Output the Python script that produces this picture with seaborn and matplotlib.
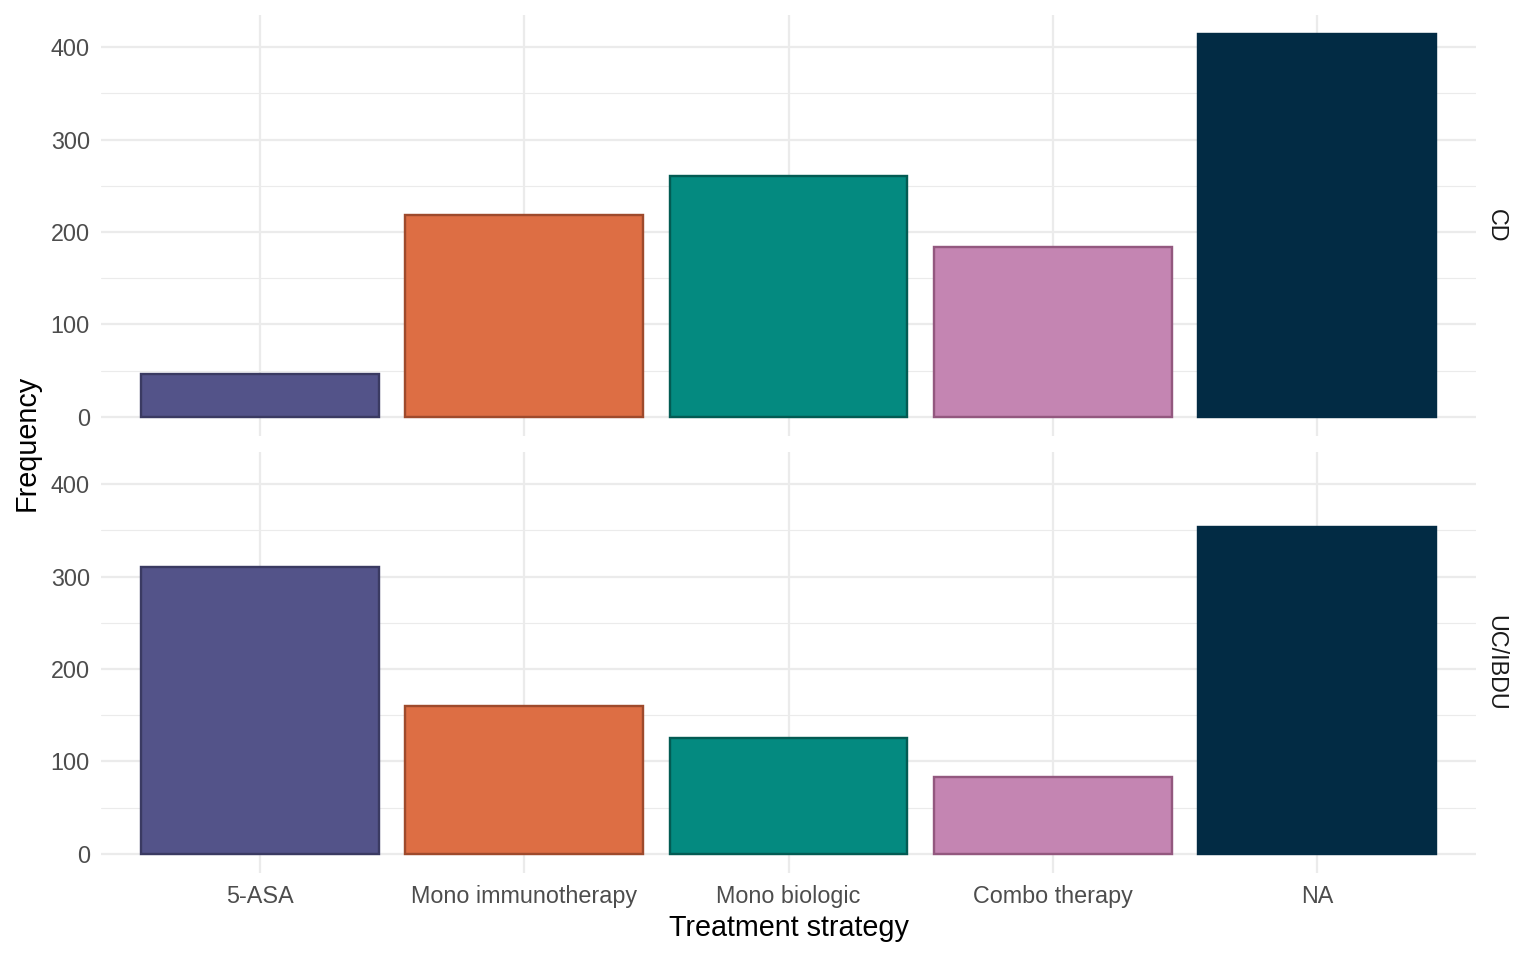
import matplotlib
matplotlib.use("Agg")
import matplotlib.pyplot as plt
import seaborn as sns
import pandas as pd
from matplotlib.ticker import MultipleLocator

categories = ["5-ASA", "Mono immunotherapy", "Mono biologic", "Combo therapy", "NA"]
cd_values = [46, 218, 261, 184, 414]
uc_values = [310, 160, 125, 83, 354]
facets = ["CD", "UC/IBDU"]
fill_colors = ["#535389", "#DD6E44", "#048A80", "#C485B2", "#022B44"]
edge_colors = ["#3A3A62", "#9E4A2C", "#035B53", "#93587F", "#022B44"]

sns.set_theme(style="white")
plt.rcParams['font.family'] = ['Liberation Sans', 'DejaVu Sans']

df = pd.DataFrame({
    "Treatment strategy": categories * 2,
    "Frequency": cd_values + uc_values,
    "group": [facets[0]] * len(categories) + [facets[1]] * len(categories),
})

fig = plt.figure(figsize=(1536 / 144, 960 / 144), dpi=144)
left, right = 101 / 1536, 1476 / 1536
panels = [(15, 436), (452, 873)]
ymax = max(cd_values + uc_values)
ylim = (-0.05 * ymax, ymax * 1.05)

tick_fs = 11.7
title_fs = 14.4

axes = []
for i, (top_px, bot_px) in enumerate(panels):
    ax = fig.add_axes([left, 1 - bot_px / 960, right - left, (bot_px - top_px) / 960])
    axes.append(ax)
    sub = df[df["group"] == facets[i]]
    sns.barplot(data=sub, x="Treatment strategy", y="Frequency", hue="Treatment strategy",
                order=categories, hue_order=categories, palette=fill_colors,
                width=0.9, legend=False, ax=ax, zorder=3, saturation=1)
    for cont, ec in zip(ax.containers, edge_colors):
        for p in cont:
            p.set_edgecolor(ec)
            p.set_linewidth(1.2)
            p.set_zorder(3)
    ax.set_xlim(-0.6, len(categories) - 0.4)
    ax.set_ylim(*ylim)
    ax.yaxis.set_major_locator(MultipleLocator(100))
    ax.yaxis.set_minor_locator(MultipleLocator(50))
    ax.grid(True, which="major", axis="both", color="#EBEBEB", linewidth=1.1, zorder=0)
    ax.grid(True, which="minor", axis="y", color="#EBEBEB", linewidth=0.55, zorder=0)
    ax.set_axisbelow(True)
    for s in ax.spines.values():
        s.set_visible(False)
    ax.tick_params(axis="both", which="both", length=0, labelsize=tick_fs, labelcolor="#4D4D4D")
    ax.tick_params(axis="y", pad=5.5)
    ax.tick_params(axis="x", pad=6)
    ax.set_xlabel("")
    ax.set_ylabel("")
    if i == 0:
        ax.set_xticklabels([])
    ax.text(1.0 + 20 / 1375, 0.5, facets[i], transform=ax.transAxes, rotation=270,
            ha="center", va="center", fontsize=tick_fs, color="#1A1A1A")

fig.text((left + right) / 2, 1 - 928 / 960, "Treatment strategy", ha="center", va="center",
         fontsize=title_fs, color="black")
fig.text(27 / 1536, 1 - 443 / 960, "Frequency", ha="center", va="center", rotation=90,
         fontsize=title_fs, color="black")

fig.savefig("out.png", dpi=144)
